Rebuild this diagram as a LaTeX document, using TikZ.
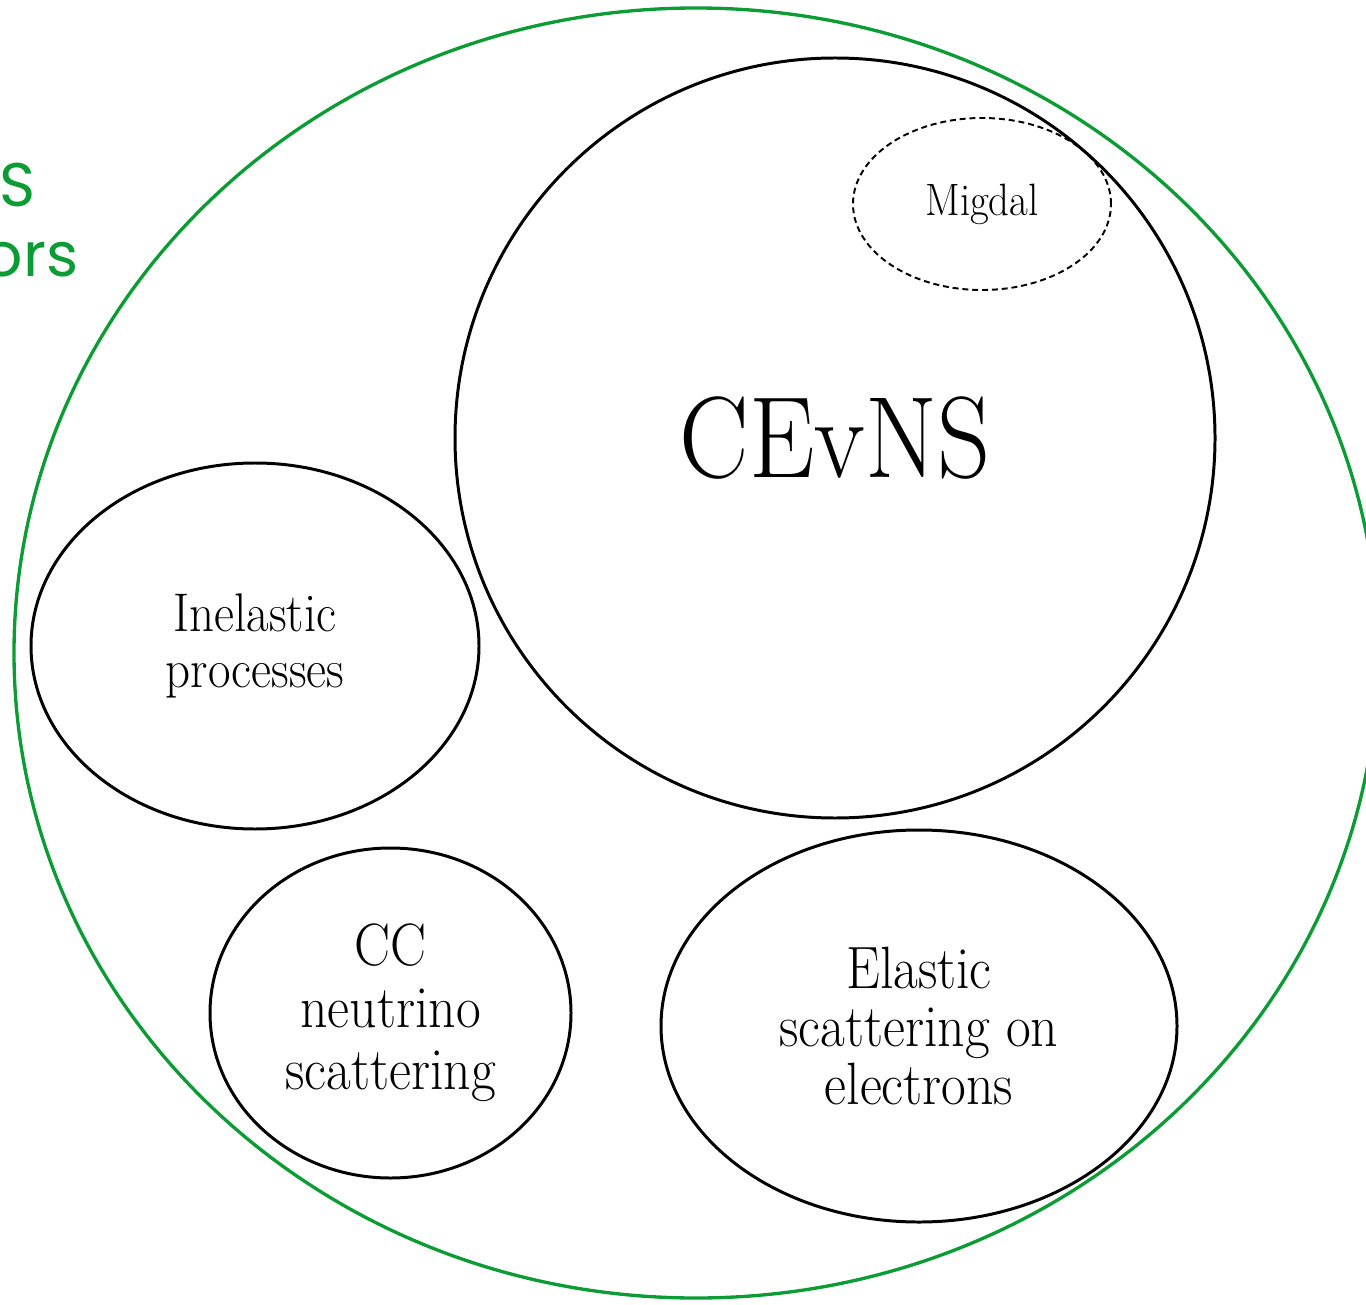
\documentclass[tikz,border=0pt]{standalone}
\usepackage{fontspec}
\usepackage{tikz}
\usetikzlibrary{shapes.geometric}
\newfontfamily\procfont[FakeStretch=0.9]{lmroman17-regular.otf}
\newfontfamily\tagfont{Poppins}
\definecolor{detgreen}{RGB}{12,155,52}
\newcommand{\Size}[2]{\fontsize{#1}{#2}\selectfont}
\tikzset{
    region/.style={ellipse,draw=black,line width=0.85pt,inner sep=0pt,align=center},
    subregion/.style={ellipse,draw=black,line width=0.55pt,dash pattern=on 1.7pt off 1.1pt,inner sep=0pt},
    outer/.style={ellipse,draw=detgreen,line width=0.95pt,inner sep=0pt},
    tag/.style={inner sep=0pt,anchor=base east,text=detgreen,font=\tagfont\Size{17.5}{20}},
}

\begin{document}
\begin{tikzpicture}
    \path[use as bounding box] (0,0) rectangle (13.66,13.04);
    \clip (0,0) rectangle (13.66,13.04);

    \node[outer,minimum width=13.64cm,minimum height=12.90cm] (all) at (6.96,6.51) {};
    \node[tag] (tagA) at (0.36,10.97) {S};
    \node[tag] (tagB) at (0.79,10.27) {ors};

    \node[region,circle,minimum size=7.60cm,font=\procfont\Size{32.9}{36}] (cevns) at (8.35,8.66) {CEvNS};
    \node[subregion,minimum width=2.58cm,minimum height=1.72cm,font=\procfont\Size{12.9}{15}] (migdal) at (9.82,11.00) {Migdal};

    \node[region,minimum width=4.48cm,minimum height=3.66cm,font=\procfont\Size{15.5}{16}] (inelastic) at (2.55,6.58) {Inelastic\\processes};
    \node[region,minimum width=3.61cm,minimum height=3.30cm,font=\procfont\Size{17}{17.6}] (cc) at (3.905,2.91) {CC\\neutrino\\scattering};
    \node[region,minimum width=5.16cm,minimum height=3.92cm,font=\procfont\Size{17}{16.6}] (elastic) at (9.19,2.78) {Elastic\\scattering on\\electrons};
\end{tikzpicture}
\end{document}
